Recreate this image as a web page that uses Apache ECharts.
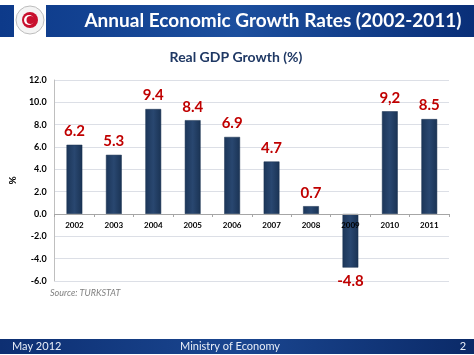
<!DOCTYPE html>
<html><head><meta charset="utf-8">
<script src="https://cdn.jsdelivr.net/npm/echarts@6/dist/echarts.min.js"></script>
<style>html,body{margin:0;padding:0;background:#fff}#c{width:474px;height:355px}</style>
</head><body><div id="c"></div>
<script>
const years = ['2002','2003','2004','2005','2006','2007','2008','2009','2010','2011'];
const growth = [6.2, 5.3, 9.4, 8.4, 6.9, 4.7, 0.7, -4.8, 9.2, 8.5];
const labelTexts = ['6.2','5.3','9.4','8.4','6.9','4.7','0.7','-4.8','9,2','8.5'];
const yTicks = [-6, -4, -2, 0, 2, 4, 6, 8, 10, 12];

const chart = echarts.init(document.getElementById('c'), null, {renderer:'canvas'});
const font = 'Lato, "Open Sans", sans-serif';
const barColor = new echarts.graphic.LinearGradient(0,0,1,0,[
  {offset:0,color:'#1c3659'},{offset:0.5,color:'#294770'},{offset:1,color:'#1a3354'}]);

const gridTop = 80, gridBottom = 74, H = 355;
const yMin = yTicks[0], yMax = yTicks[yTicks.length-1];
const zeroOffset = (H - gridTop - gridBottom) * (0 - yMin) / (yMax - yMin);

chart.setOption({
  animation:false,
  graphic:[
    {type:'rect',shape:{x:0,y:5,width:474,height:32},style:{fill:new echarts.graphic.LinearGradient(0,0,1,0,[
      {offset:0,color:'#0d3a8a'},{offset:0.5,color:'#1c4f9e'},{offset:1,color:'#0a2f78'}])},z:0},
    {type:'rect',shape:{x:14,y:5,width:32,height:32},style:{fill:'#ffffff'},z:1},
    {type:'circle',shape:{cx:30,cy:20,r:14},style:{fill:'#f4f4f4',stroke:'#bdbdbd',lineWidth:1},z:2},
    {type:'circle',shape:{cx:30,cy:20,r:8},style:{fill:'#c8102e'},z:3},
    {type:'circle',shape:{cx:29,cy:20,r:5},style:{fill:'#ffffff'},z:4},
    {type:'circle',shape:{cx:30.5,cy:20,r:4},style:{fill:'#c8102e'},z:5},
    {type:'text',x:273,y:21,style:{text:'Annual Economic Growth Rates (2002-2011)',fill:'#ffffff',
      font:'bold 19px '+font,textAlign:'center',textVerticalAlign:'middle'},z:6},
    {type:'text',x:236,y:57,style:{text:'Real GDP Growth (%)',fill:'#1f3864',
      font:'bold 14px '+font,textAlign:'center',textVerticalAlign:'middle'},z:6},
    {type:'text',x:50,y:293,style:{text:'Source: TURKSTAT',fill:'#7f7f7f',
      font:'italic 9px '+font,textAlign:'left',textVerticalAlign:'middle'},z:6},
    {type:'rect',shape:{x:0,y:339,width:474,height:15},style:{fill:new echarts.graphic.LinearGradient(0,0,1,0,[
      {offset:0,color:'#0d2f72'},{offset:0.5,color:'#1a4690'},{offset:1,color:'#0b2a68'}])},z:0},
    {type:'text',x:12,y:346.5,style:{text:'May 2012',fill:'#e8eef8',font:'11px '+font,textVerticalAlign:'middle'},z:6},
    {type:'text',x:230,y:346.5,style:{text:'Ministry of Economy',fill:'#e8eef8',font:'11px '+font,textAlign:'center',textVerticalAlign:'middle'},z:6},
    {type:'text',x:463,y:346.5,style:{text:'2',fill:'#e8eef8',font:'11px '+font,textAlign:'center',textVerticalAlign:'middle'},z:6}
  ],
  grid:{left:47,right:25,top:gridTop,bottom:gridBottom},
  xAxis:{type:'category',data:years,position:'bottom',offset:-zeroOffset,z:5,
    axisLine:{onZero:false,lineStyle:{color:'#a6a6a6'}},
    axisTick:{show:true,length:3,lineStyle:{color:'#a6a6a6'}},
    axisLabel:{color:'#000',fontWeight:'bold',fontSize:8,fontFamily:font,margin:7}},
  yAxis:{type:'value',min:yMin,max:yMax,interval:2,
    name:'%',nameLocation:'middle',nameGap:31,nameRotate:90,
    nameTextStyle:{color:'#000',fontWeight:'bold',fontSize:10,fontFamily:font},
    axisLine:{show:true,lineStyle:{color:'#bfbfbf'}},
    axisTick:{show:false},
    splitLine:{lineStyle:{color:'#dcdfe6'}},
    axisLabel:{color:'#000',fontWeight:'bold',fontSize:9,fontFamily:font,margin:8,
      formatter:v=>v.toFixed(1)}},
  series:[{type:'bar',barWidth:'40%',
    data:growth.map((v,i)=>({value:v,label:{position:v<0?'bottom':'top',formatter:labelTexts[i]}})),
    itemStyle:{color:barColor,borderColor:'#18304f',borderWidth:0.5},
    label:{show:true,color:'#c00000',fontWeight:'bold',fontSize:15,fontFamily:font,distance:6}
  }]
});
</script></body></html>
